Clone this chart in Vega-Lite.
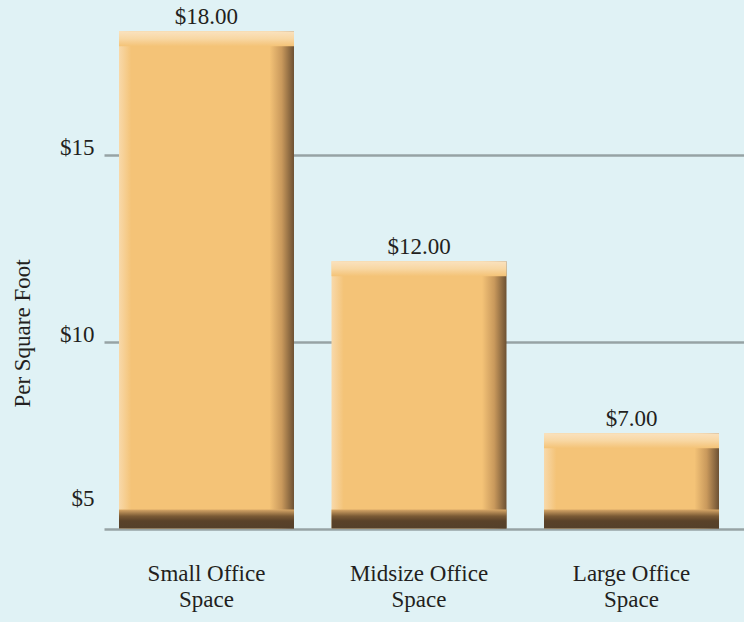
{
  "$schema": "https://vega.github.io/schema/vega-lite/v6.json",
  "width": 640,
  "height": 523.5,
  "autosize": {"type": "none"},
  "padding": {"left": 104, "top": 5, "right": 0, "bottom": 93.5},
  "background": "#e0f2f5",
  "config": {
    "view": {"stroke": null},
    "font": "Liberation Serif",
    "axis": {"labelFont": "Liberation Serif", "titleFont": "Liberation Serif"},
    "text": {"font": "Liberation Serif"}
  },
  "data": {
    "values": [
      {"space": "Small Office Space", "value": 18, "bar": 18.3, "label": "$18.00"},
      {"space": "Midsize Office Space", "value": 12, "bar": 12.15, "label": "$12.00"},
      {"space": "Large Office Space", "value": 7, "bar": 7.55, "label": "$7.00"}
    ]
  },
  "encoding": {
    "x": {
      "field": "space",
      "type": "nominal",
      "sort": null,
      "scale": {"paddingInner": 0.1765, "paddingOuter": 0.0941, "align": 0.375},
      "axis": {
        "title": null,
        "domain": false,
        "ticks": false,
        "labelAngle": 0,
        "labelFontSize": 23,
        "labelColor": "#231f20",
        "labelPadding": 34,
        "labelLineHeight": 26,
        "labelExpr": "[slice(datum.label, 0, indexof(datum.label, ' Space')), 'Space']"
      }
    }
  },
  "layer": [
    {
      "mark": {
        "type": "bar",
        "fill": {
          "x1": 0, "y1": 0, "x2": 1, "y2": 0,
          "gradient": "linear",
          "stops": [
            {"offset": 0, "color": "#f8d9aa"},
            {"offset": 0.07, "color": "#f4c377"},
            {"offset": 0.86, "color": "#f4c377"},
            {"offset": 0.93, "color": "#c9995c"},
            {"offset": 1, "color": "#6d5133"}
          ]
        }
      },
      "encoding": {
        "y": {
          "field": "bar",
          "type": "quantitative",
          "scale": {"domain": [5, 19], "nice": false, "zero": false},
          "axis": {
            "values": [5, 10, 15],
            "labelExpr": "'$' + datum.value",
            "domain": false,
            "ticks": false,
            "grid": true,
            "gridColor": "#97a3a4",
            "gridWidth": 2.5,
            "labelFontSize": 23,
            "labelColor": "#231f20",
            "labelPadding": 10,
            "labelOffset": {"condition": {"test": "datum.value == 5", "value": -30}, "value": -7},
            "title": "Per Square Foot",
            "titleFontSize": 23,
            "titleFontWeight": "normal",
            "titleColor": "#231f20",
            "titleX": -82,
            "titleY": 328,
            "titleAngle": -90,
            "titleBaseline": "middle",
            "titleAlign": "center"
          }
        },
        "y2": {"datum": 5}
      }
    },
    {
      "mark": {
        "type": "tick",
        "size": 175,
        "thickness": 15,
        "yOffset": 7.5,
        "fill": {
          "x1": 0, "y1": 0, "x2": 0, "y2": 1,
          "gradient": "linear",
          "stops": [
            {"offset": 0, "color": "#fae2bf"},
            {"offset": 0.5, "color": "#f8d7a3"},
            {"offset": 1, "color": "#f4c377"}
          ]
        },
        "opacity": 1
      },
      "encoding": {"y": {"field": "bar", "type": "quantitative"}}
    },
    {
      "mark": {
        "type": "tick",
        "size": 175,
        "thickness": 19,
        "yOffset": -9.5,
        "fill": {
          "x1": 0, "y1": 0, "x2": 0, "y2": 1,
          "gradient": "linear",
          "stops": [
            {"offset": 0, "color": "#d8a868"},
            {"offset": 0.35, "color": "#7a5a35"},
            {"offset": 0.6, "color": "#5a4229"},
            {"offset": 1, "color": "#54402a"}
          ]
        },
        "opacity": 1
      },
      "encoding": {"y": {"datum": 5, "type": "quantitative"}}
    },
    {
      "mark": {"type": "text", "fontSize": 23, "color": "#231f20", "baseline": "alphabetic", "dy": -7},
      "encoding": {
        "y": {"field": "bar", "type": "quantitative"},
        "text": {"field": "label"}
      }
    }
  ]
}
